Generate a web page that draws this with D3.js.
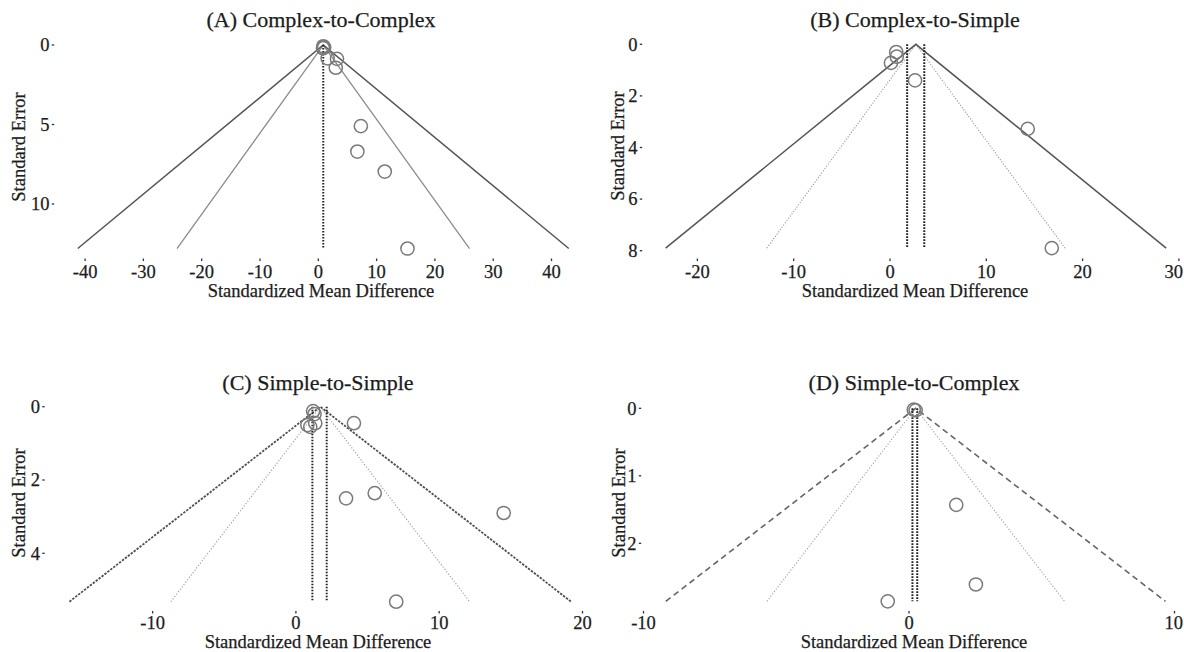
<!DOCTYPE html>
<html><head><meta charset="utf-8">
<script src="https://cdn.jsdelivr.net/npm/d3@7"></script>
<style>
body{margin:0;background:#fff}
svg{display:block}
text{font-family:"Liberation Serif","Times New Roman",serif;fill:#1c1c1c;stroke:#1c1c1c;stroke-width:0.25}
</style>
</head><body>
<svg id="chart" width="1184" height="652"></svg>
<script>
// ---------- data ----------
const panelTitles = ["(A) Complex-to-Complex","(B) Complex-to-Simple","(C) Simple-to-Simple","(D) Simple-to-Complex"];
const xLabel = "Standardized Mean Difference";
const yLabel = "Standard Error";

const xTicksA = [-40,-30,-20,-10,0,10,20,30,40];
const xTicksB = [-20,-10,0,10,20,30];
const xTicksC = [-10,0,10,20];
const xTicksD = [-10,0,10];
const yTicksA = [0,5,10];
const yTicksB = [0,2,4,6,8];
const yTicksC = [0,2,4];
const yTicksD = [0,1,2];

const smdA = [0.85,1.0,0.8,1.6,3.2,3.0,7.3,6.7,11.4,15.3];
const seA  = [0.08,0.15,0.2,0.84,0.87,1.43,5.1,6.7,7.96,12.8];
const smdB = [0.65,0.7,0.1,2.6,14.3,16.8];
const seB  = [0.3,0.48,0.72,1.4,3.28,7.9];
const smdC = [1.2,1.3,0.8,1.0,1.35,4.05,3.5,5.5,14.5,7.0];
const seC  = [0.12,0.2,0.5,0.55,0.45,0.45,2.5,2.36,2.9,5.32];
const smdD = [0.18,0.25,1.78,2.52,-0.8];
const seD  = [0.02,0.03,1.43,2.61,2.86];

const centerA = 0.85, centerB = 2.69, centerC = 1.7, centerD = 0.25;   // funnel apex
const estA = [0.85], estB = [1.78,3.56], estC = [1.15,2.15], estD = [0.13,0.31]; // vertical reference lines
const zLevels = [1.96, 3.29]; // inner, outer pseudo-confidence limits

// ---------- layout / styles ----------
const panels = [
  {title:panelTitles[0], xt:xTicksA, yt:yTicksA, smd:smdA, se:seA, c:centerA, est:estA,
   xd:[-40,40], xr:[85.1,551.5], yd:[0,10], yr:[45,204],
   titleX:321, titleY:27, xLabY:278, xTitleY:297, xTickY:260, yTickX:53, yTitleX:25, yTitleY:147,
   inner:{stroke:"#8c8c8c",w:1.3,dash:null}, outer:{stroke:"#555",w:1.5,dash:null}},
  {title:panelTitles[1], xt:xTicksB, yt:yTicksB, smd:smdB, se:seB, c:centerB, est:estB,
   xd:[-20,20], xr:[697.4,1082.6], yd:[0,8], yr:[44.3,250.7],
   titleX:915, titleY:27, xLabY:278, xTitleY:297, xTickY:260, yTickX:641, yTitleX:624, yTitleY:146,
   inner:{stroke:"#9a9a9a",w:1.1,dash:"1.2,1.6"}, outer:{stroke:"#555",w:1.5,dash:null}},
  {title:panelTitles[2], xt:xTicksC, yt:yTicksC, smd:smdC, se:seC, c:centerC, est:estC,
   xd:[-10,20], xr:[152.6,582.5], yd:[0,4], yr:[406.7,553.3],
   titleX:318, titleY:390, xLabY:629, xTitleY:648, xTickY:612.5, yTickX:43.5, yTitleX:25, yTitleY:503,
   inner:{stroke:"#9a9a9a",w:1.1,dash:"1.2,1.8"}, outer:{stroke:"#505050",w:1.8,dash:"2.4,1.3"}},
  {title:panelTitles[3], xt:xTicksD, yt:yTicksD, smd:smdD, se:seD, c:centerD, est:estD,
   xd:[-10,10], xr:[643.5,1174.5], yd:[0,2], yr:[408.3,543.3],
   titleX:914, titleY:390, xLabY:629, xTitleY:648, xTickY:612.5, yTickX:640, yTitleX:624.5, yTitleY:503,
   inner:{stroke:"#a0a0a0",w:1.1,dash:"1.2,1.8"}, outer:{stroke:"#666",w:1.6,dash:"6,4"}}
];

const svg = d3.select("#chart");
const W = 1184;

panels.forEach(p => {
  const x = d3.scaleLinear().domain(p.xd).range(p.xr);
  const y = d3.scaleLinear().domain(p.yd).range(p.yr);
  const g = svg.append("g");
  const seMax = d3.max(p.se);

  // funnel lines
  zLevels.forEach((z,i) => {
    const st = i === 0 ? p.inner : p.outer;
    const pts = [[p.c - z*seMax, seMax],[p.c, 0],[p.c + z*seMax, seMax]];
    g.append("path")
      .attr("d", d3.line().x(d=>x(d[0])).y(d=>y(d[1]))(pts))
      .attr("fill","none").attr("stroke",st.stroke).attr("stroke-width",st.w)
      .attr("stroke-dasharray",st.dash);
  });

  // vertical reference lines
  p.est.forEach(e => {
    g.append("line")
      .attr("x1",x(e)).attr("x2",x(e)).attr("y1",y(0)).attr("y2",y(seMax))
      .attr("stroke","#222").attr("stroke-width",2).attr("stroke-dasharray","1.6,1.4");
  });

  // points
  g.selectAll("circle.pt").data(p.smd.map((v,i)=>[v,p.se[i]])).enter()
    .append("circle").attr("class","pt")
    .attr("cx",d=>x(d[0])).attr("cy",d=>y(d[1])).attr("r",6.6)
    .attr("fill","none").attr("stroke","#7a7a7a").attr("stroke-width",1.5);

  // x axis (ticks only)
  const xa = g.append("g");
  p.xt.forEach(t => {
    xa.append("line").attr("x1",x(t)).attr("x2",x(t)).attr("y1",p.xTickY-1.5).attr("y2",p.xTickY+1)
      .attr("stroke","#333").attr("stroke-width",1.3);
    const lab = xa.append("text").attr("x",x(t)).attr("y",p.xLabY).attr("text-anchor","middle")
      .attr("font-size",18.5).text(t < 0 ? "-" + Math.abs(t) : String(t));
    const bb = lab.node().getBBox();
    if (bb.x + bb.width > W - 1) lab.attr("text-anchor","end").attr("x", W - 1);
  });
  g.append("text").attr("x",p.titleX).attr("y",p.xTitleY).attr("text-anchor","middle")
    .attr("font-size",18.5).text(xLabel);

  // y axis (ticks only)
  p.yt.forEach(t => {
    g.append("line").attr("x1",p.yTickX-1.2).attr("x2",p.yTickX+1.2).attr("y1",y(t)).attr("y2",y(t))
      .attr("stroke","#333").attr("stroke-width",1.3);
    g.append("text").attr("x",p.yTickX-3.5).attr("y",y(t)+6.3).attr("text-anchor","end")
      .attr("font-size",18.5).text(String(t));
  });
  g.append("text").attr("transform",`translate(${p.yTitleX},${p.yTitleY}) rotate(-90)`)
    .attr("text-anchor","middle").attr("font-size",18.5).text(yLabel);

  // title
  g.append("text").attr("x",p.titleX).attr("y",p.titleY).attr("text-anchor","middle")
    .attr("font-size",22).text(p.title);
});
</script>
</body></html>
